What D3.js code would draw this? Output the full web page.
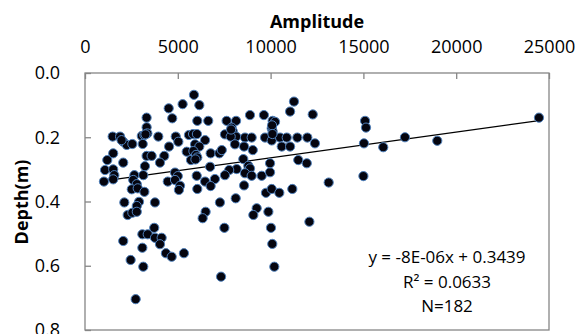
<!DOCTYPE html>
<html>
<head>
<meta charset="utf-8">
<script src="https://cdn.jsdelivr.net/npm/d3@7"></script>
<style>
  body { margin: 0; background: #fff; }
  svg text { font-family: "Open Sans", "Liberation Sans", sans-serif; fill: #000; }
</style>
</head>
<body>
<div id="chart"></div>
<script>
// values
var amplitude = [5260,4510,4700,3320,3320,1490,1890,2060,2250,2550,3060,3200,3360,3110,3950,4890,5030,4530,5600,1520,
  1200,2060,3320,3590,4270,4040,3230,1080,1520,1580,1020,1520,2660,3140,2600,2790,2520,2840,3200,4460,
  4850,5000,4850,5120,5060,5480,5710,2120,2910,2790,3770,2300,2550,2790,3730,3090,3380,3770,4130,4040,
  2060,3090,4360,4670,5330,2460,3140,2730,5870,6160,6050,6640,7630,8140,8890,9640,10110,10240,11260,11050,
  12270,5820,6030,6470,5930,6160,5840,5980,6050,6770,7240,7370,6740,6020,6470,7000,7540,7900,7960,8140,
  7850,8080,8620,8980,8570,9040,8530,8800,8890,8170,7770,7540,8620,8980,9520,9970,9970,9700,10060,10110,
  10130,10060,10510,10600,11050,10870,11440,11980,11490,11950,12390,8570,6050,6770,9750,10060,10470,11170,13130,7270,
  8120,6500,6340,9250,9070,9880,12090,7510,10020,10090,10200,7330,15090,15140,15030,16070,17240,18980,24460,15000,
  5950,10080,10100,7870,3260,1970];
var depth = [0.097,0.110,0.141,0.139,0.169,0.198,0.198,0.214,0.224,0.221,0.196,0.193,0.188,0.221,0.198,0.198,0.214,0.229,0.193,0.250,
  0.271,0.279,0.258,0.258,0.258,0.279,0.290,0.302,0.300,0.318,0.338,0.331,0.318,0.318,0.333,0.346,0.362,0.359,0.370,0.338,
  0.310,0.321,0.333,0.351,0.364,0.245,0.271,0.403,0.401,0.414,0.403,0.442,0.435,0.432,0.482,0.502,0.502,0.513,0.513,0.533,
  0.523,0.544,0.561,0.572,0.561,0.582,0.603,0.704,0.068,0.100,0.149,0.149,0.149,0.149,0.131,0.131,0.149,0.152,0.089,0.120,
  0.129,0.190,0.190,0.209,0.222,0.229,0.243,0.255,0.263,0.250,0.250,0.240,0.292,0.320,0.338,0.330,0.191,0.170,0.181,0.198,
  0.198,0.222,0.201,0.201,0.229,0.240,0.268,0.289,0.297,0.299,0.302,0.318,0.312,0.320,0.320,0.309,0.281,0.201,0.172,0.182,
  0.198,0.210,0.201,0.229,0.229,0.201,0.201,0.201,0.271,0.281,0.219,0.350,0.361,0.352,0.373,0.361,0.373,0.361,0.341,0.403,
  0.390,0.432,0.452,0.421,0.442,0.432,0.463,0.482,0.482,0.532,0.603,0.634,0.149,0.170,0.219,0.231,0.200,0.211,0.139,0.321,
  0.269,0.163,0.190,0.176,0.191,0.209];

var xTicks = [0, 5000, 10000, 15000, 20000, 25000];
var yTicks = [0.0, 0.2, 0.4, 0.6, 0.8];
var trendSlope = -8e-6, trendIntercept = 0.3439;
var statLines = ["y = -8E-06x + 0.3439", "R\u00b2 = 0.0633", "N=182"];

var width = 586, height = 334;
var margin = {top: 73, right: 37, bottom: 4, left: 85};
var w = width - margin.left - margin.right, h = height - margin.top - margin.bottom;

var svg = d3.select('#chart').append('svg').attr('width', width).attr('height', height);
var g = svg.append('g').attr('transform', 'translate(' + margin.left + ',' + margin.top + ')');

var x = d3.scaleLinear().domain([0, 25000]).range([0, w]);
var y = d3.scaleLinear().domain([0, 0.8]).range([0, h]);

// plot area frame
g.append('rect').attr('width', w).attr('height', h)
  .attr('fill', 'none').attr('stroke', '#868686').attr('stroke-width', 1.3);

var xAxis = g.append('g')
  .call(d3.axisTop(x).tickValues(xTicks).tickFormat(d3.format('d')).tickSizeInner(-6).tickSizeOuter(0).tickPadding(20));
var yAxis = g.append('g')
  .call(d3.axisLeft(y).tickValues(yTicks).tickFormat(d3.format('.1f')).tickSizeInner(-6).tickSizeOuter(0).tickPadding(25));
[xAxis, yAxis].forEach(function(a) {
  a.select('.domain').remove();
  a.selectAll('line').attr('stroke', '#868686').attr('stroke-width', 1.3);
  a.selectAll('text').style('font-size', '18px').attr('fill', '#000');
});

// axis titles
svg.append('text').attr('x', margin.left + w / 2).attr('y', 28)
  .attr('text-anchor', 'middle').style('font-size', '18px').style('font-weight', 'bold').text('Amplitude');
svg.append('text').attr('transform', 'translate(28,' + 202 + ') rotate(-90)')
  .attr('text-anchor', 'middle').style('font-size', '18px').style('font-weight', 'bold').text('Depth(m)');

// trend line over the data range
var xr = d3.extent(amplitude);
g.append('line')
  .attr('x1', x(xr[0])).attr('y1', y(trendIntercept + trendSlope * xr[0]))
  .attr('x2', x(xr[1])).attr('y2', y(trendIntercept + trendSlope * xr[1]))
  .attr('stroke', '#000').attr('stroke-width', 1.2);

g.selectAll('circle.pt')
  .data(amplitude.map(function(a, i) { return {a: a, d: depth[i]}; }))
  .enter().append('circle')
  .attr('class', 'pt')
  .attr('cx', function(d) { return x(d.a); })
  .attr('cy', function(d) { return y(d.d); })
  .attr('r', 4.6)
  .attr('fill', '#05050f')
  .attr('stroke', '#4f81bd')
  .attr('stroke-width', 1);

svg.selectAll('text.stat')
  .data(statLines)
  .enter().append('text')
  .attr('class', 'stat')
  .attr('x', 447)
  .attr('y', function(d, i) { return 263 + i * 24.5; })
  .attr('text-anchor', 'middle')
  .style('font-size', '17px')
  .text(function(d) { return d; });
</script>
</body>
</html>
